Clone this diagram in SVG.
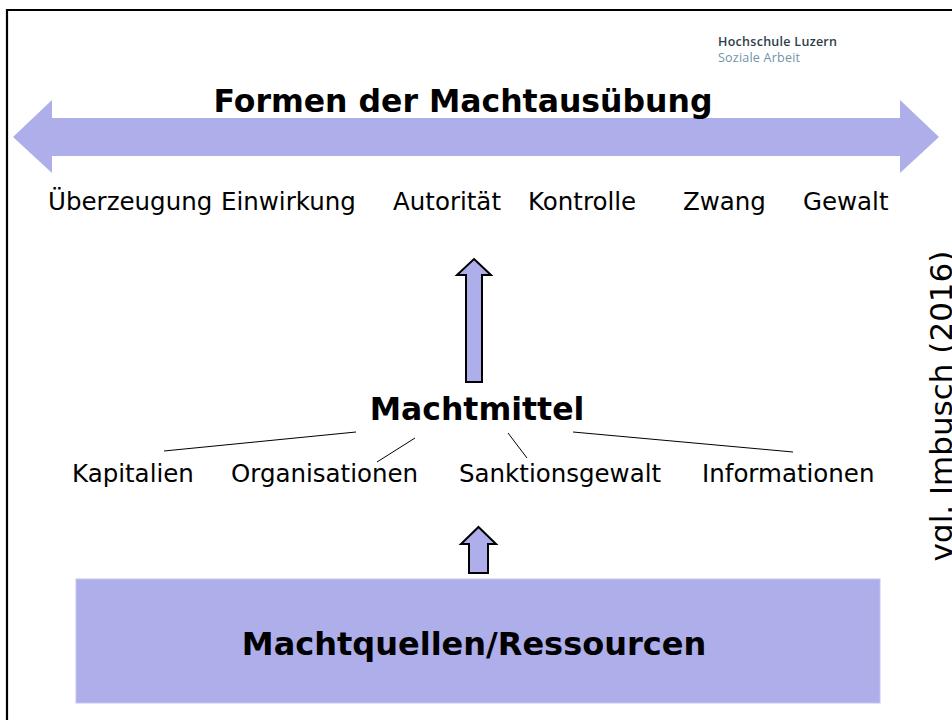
<svg xmlns="http://www.w3.org/2000/svg" width="952" height="720" viewBox="0 0 952 720">
<style>
.t{font-family:"DejaVu Sans",Verdana,sans-serif;fill:#000}
.b{font-weight:bold;font-size:31.5px}
.r{font-size:24.5px}
.arrow{fill:#aeaeea}
.up{fill:#aeaeea;stroke:#000;stroke-width:2}
.ln{stroke:#000;stroke-width:1;fill:none}
.logo{font-family:"Open Sans","Noto Sans",sans-serif;font-size:12.5px}
</style>
<rect width="952" height="720" fill="#fff"/>
<path d="M7,720 V10 H952" fill="none" stroke="#000" stroke-width="2.2"/>
<g id="logo">
<text class="logo" x="718" y="46" fill="#2e3d48" font-weight="600" textLength="119">Hochschule Luzern</text>
<text class="logo" x="718" y="62" fill="#6f94a8" textLength="82">Soziale Arbeit</text>
</g>
<g id="formen">
<polygon class="arrow" points="13,137 52,100 52,118 900,118 900,100 939,137 900,173 900,156 52,156 52,173"/>
<text class="t b" x="463" y="112" text-anchor="middle">Formen der Machtausübung</text>
</g>
<g id="formen-items">
<text class="t r" x="48" y="210">Überzeugung</text>
<text class="t r" x="221" y="210">Einwirkung</text>
<text class="t r" x="393" y="210">Autorität</text>
<text class="t r" x="528" y="210">Kontrolle</text>
<text class="t r" x="683" y="210">Zwang</text>
<text class="t r" x="803" y="210">Gewalt</text>
</g>
<g id="machtmittel">
<text class="t b" x="477" y="420" text-anchor="middle">Machtmittel</text>
</g>
<g id="mittel-items">
<text class="t r" x="72" y="482">Kapitalien</text>
<text class="t r" x="231" y="482">Organisationen</text>
<text class="t r" x="459" y="482">Sanktionsgewalt</text>
<text class="t r" x="702" y="482">Informationen</text>
</g>
<g id="machtquellen">
<rect x="76" y="579" width="804" height="124" fill="#aeaeea" stroke="#c4c4f0" stroke-width="1"/>
<text class="t" font-weight="bold" font-size="32" x="474" y="655" text-anchor="middle">Machtquellen/Ressourcen</text>
</g>
<g id="source">
<text class="t" font-size="31" transform="translate(952,406) rotate(-90)" text-anchor="middle">vgl. Imbusch (2016)</text>
</g>
<g id="connectors">
<polygon class="up" points="474,259 491,275 482,275 482,382 466,382 466,275 457,275"/>
<polygon class="up" points="478.5,527 496,544 488,544 488,573 469,573 469,544 461,544"/>
<line class="ln" x1="164" y1="451" x2="356" y2="432"/>
<line class="ln" x1="377" y1="462" x2="415" y2="438"/>
<line class="ln" x1="508" y1="433" x2="527" y2="458"/>
<line class="ln" x1="573" y1="432" x2="793" y2="452"/>
</g>
</svg>
